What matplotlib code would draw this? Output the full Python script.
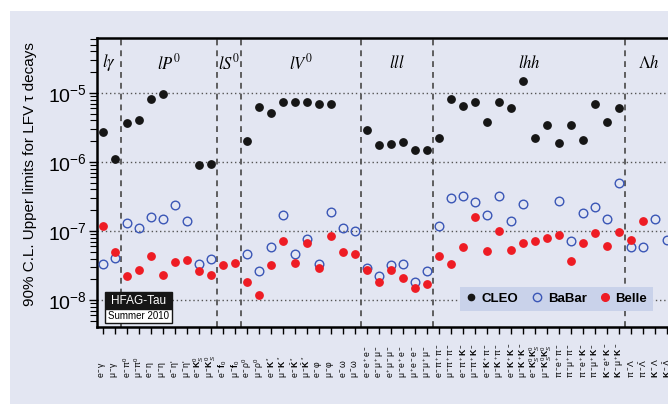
import numpy as np
import matplotlib.pyplot as plt
from matplotlib import font_manager
from matplotlib.lines import Line2D
from matplotlib.patches import Rectangle

plt.rcParams['font.family'] = 'Liberation Sans'
plt.rcParams['mathtext.fontset'] = 'custom'
plt.rcParams['mathtext.rm'] = 'Liberation Sans'
plt.rcParams['mathtext.it'] = 'Liberation Sans:italic'
plt.rcParams['mathtext.bf'] = 'Liberation Sans:bold'

# narrow face for the legend if there is one
names = {f.name for f in font_manager.fontManager.ttflist}
legend_font = 'Liberation Sans Narrow' if 'Liberation Sans Narrow' in names else 'Liberation Sans'

nan = np.nan

# decay channels, grouped by final state
groups = [r'$l\gamma$', r'$lP^0$', r'$lS^0$', r'$lV^0$', r'$lll$', r'$lhh$', r'$\Lambda h$']
group_sizes = [2, 8, 2, 10, 6, 16, 4]

channels = [
    'e$^-$γ', 'μ$^-$γ',
    'e$^-$π$^0$', 'μ$^-$π$^0$', 'e$^-$η', 'μ$^-$η', "e$^-$η'", "μ$^-$η'",
    r'e$^-\mathbf{K}^0_S$', r'μ$^-\mathbf{K}^0_S$',
    r'e$^-\mathbf{f}_0$', r'μ$^-\mathbf{f}_0$',
    'e$^-$ρ$^0$', 'μ$^-$ρ$^0$', r'e$^-\mathbf{K}^*$', r'μ$^-\mathbf{K}^*$',
    r'e$^-\bar{\mathbf{K}}^*$', r'μ$^-\bar{\mathbf{K}}^*$', 'e$^-$φ', 'μ$^-$φ', 'e$^-$ω', 'μ$^-$ω',
    'e$^-$e$^+$e$^-$', 'e$^-$μ$^+$μ$^-$', 'e$^+$μ$^-$μ$^-$', 'μ$^-$e$^+$e$^-$',
    'μ$^+$e$^-$e$^-$', 'μ$^-$μ$^+$μ$^-$',
    'e$^-$π$^+$π$^-$', 'μ$^-$π$^+$π$^-$', r'e$^-$π$^+\mathbf{K}^-$', r'μ$^-$π$^+\mathbf{K}^-$',
    r'e$^-\mathbf{K}^+$π$^-$', r'μ$^-\mathbf{K}^+$π$^-$', r'e$^-\mathbf{K}^+\mathbf{K}^-$',
    r'μ$^-\mathbf{K}^+\mathbf{K}^-$', r'e$^-\mathbf{K}^0_S\mathbf{K}^0_S$',
    r'μ$^-\mathbf{K}^0_S\mathbf{K}^0_S$', 'π$^-$e$^+$π$^-$', 'π$^-$μ$^+$π$^-$',
    r'π$^-$e$^+\mathbf{K}^-$', r'π$^-$μ$^+\mathbf{K}^-$', r'$\mathbf{K}^-$e$^+\mathbf{K}^-$',
    r'$\mathbf{K}^-$μ$^+\mathbf{K}^-$',
    'π$^-$Λ', r'π$^-\bar{Λ}$', r'$\mathbf{K}^-$Λ', r'$\mathbf{K}^-\bar{Λ}$',
]

cleo = [2.7e-6, 1.1e-6, 3.7e-6, 4.0e-6, 8.2e-6, 9.6e-6, nan, nan, 9.1e-7, 9.5e-7,
        nan, nan,
        2.0e-6, 6.3e-6, 5.1e-6, 7.5e-6, 7.4e-6, 7.5e-6, 6.9e-6, 7.0e-6, nan, nan,
        2.9e-6, 1.75e-6, 1.85e-6, 1.95e-6, 1.5e-6, 1.5e-6,
        2.2e-6, 8.1e-6, 6.4e-6, 7.5e-6, 3.8e-6, 7.4e-6, 6.0e-6, 1.5e-5,
        2.2e-6, 3.4e-6, 1.9e-6, 3.4e-6, 2.1e-6, 7.0e-6, 3.8e-6, 6.0e-6,
        nan, nan, nan, nan]

babar = [3.3e-8, 4.1e-8, 1.32e-7, 1.1e-7, 1.6e-7, 1.5e-7, 2.4e-7, 1.4e-7, 3.3e-8, 4.0e-8,
         nan, nan,
         4.6e-8, 2.6e-8, 5.9e-8, 1.7e-7, 4.6e-8, 7.7e-8, 3.3e-8, 1.9e-7, 1.1e-7, 1.0e-7,
         2.9e-8, 2.2e-8, 3.2e-8, 3.3e-8, 1.8e-8, 2.6e-8,
         1.2e-7, 3.0e-7, 3.2e-7, 2.6e-7, 1.7e-7, 3.2e-7, 1.4e-7, 2.5e-7,
         nan, nan, 2.7e-7, 7.2e-8, 1.8e-7, 2.2e-7, 1.5e-7, 4.9e-7,
         5.9e-8, 5.9e-8, 1.5e-7, 7.3e-8]

belle = [1.2e-7, 4.9e-8, 2.2e-8, 2.7e-8, 4.4e-8, 2.3e-8, 3.6e-8, 3.8e-8, 2.6e-8, 2.3e-8,
         3.2e-8, 3.4e-8,
         1.8e-8, 1.2e-8, 3.2e-8, 7.2e-8, 3.4e-8, 6.8e-8, 2.9e-8, 8.4e-8, 4.9e-8, 4.7e-8,
         2.7e-8, 1.8e-8, 2.7e-8, 2.1e-8, 1.5e-8, 1.7e-8,
         4.4e-8, 3.3e-8, 5.9e-8, 1.6e-7, 5.2e-8, 1.0e-7, 5.4e-8, 6.8e-8,
         7.2e-8, 8.0e-8, 8.9e-8, 3.7e-8, 6.8e-8, 9.5e-8, 6.0e-8, 9.7e-8,
         7.3e-8, 1.4e-7, nan, nan]

bg = '#e3e6f2'
W, H = 668, 404

fig = plt.figure(figsize=(W / 100, H / 100), dpi=100, facecolor='white')
fig.patches.append(Rectangle((10 / W, 0), 1, 1 - 11 / H, transform=fig.transFigure,
                             facecolor=bg, edgecolor='none', zorder=-10))
ax = fig.add_axes([97 / W, 77 / H, 576 / W, 289 / H])
ax.set_facecolor('none')

x = np.arange(len(channels))
ax.set_yscale('log')
ax.set_xlim(-0.5, len(channels) - 0.5)
ax.set_ylim(4.07e-9, 6.27e-5)

ax.plot(x, cleo, 'o', ls='none', color='#161616', ms=5.3, zorder=4)
ax.plot(x, babar, 'o', ls='none', mfc='none', mec='#3a56b6', mew=1.0, ms=6.2, zorder=3)
ax.plot(x, belle, 'o', ls='none', color='#ee1c24', ms=5.3, zorder=3)

# group separators and names
edges = np.cumsum(group_sizes)
for b in edges[:-1]:
    ax.axvline(b - 0.5, color='#474747', ls=(0, (3.5, 3)), lw=1.2, zorder=1)
starts = np.concatenate([[0], edges[:-1]])
for name, s, e in zip(groups, starts, edges):
    ax.text((s + e - 1) / 2, 0.915, name, transform=ax.get_xaxis_transform(),
            ha='center', va='center', fontsize=12, math_fontfamily='stix')

for dec in [1e-8, 1e-7, 1e-6, 1e-5]:
    ax.axhline(dec, color='#555555', ls=(0, (1, 2)), lw=1.0, zorder=1)

for s in ['left', 'top', 'bottom']:
    ax.spines[s].set_linewidth(1.8)
ax.spines['right'].set_visible(False)

ax.set_xticks(x)
ax.tick_params(axis='x', which='both', direction='out', length=5, width=1,
               labelbottom=False)
ax.tick_params(axis='y', which='major', direction='out', length=6, width=1,
               labelsize=14, pad=1)
ax.tick_params(axis='y', which='minor', direction='out', length=5, width=0.8)

for xi, lab in zip(x, channels):
    ax.text(xi, -0.178, lab, transform=ax.get_xaxis_transform(), rotation=90,
            ha='center', va='bottom', fontsize=6.2)

ax.set_ylabel('90% C.L. Upper limits for LFV τ decays', fontsize=11)
ax.yaxis.set_label_coords(-0.104, 0.53)

# HFAG stamp
fig.patches.append(Rectangle((105 / W, 1 - 309 / H), 67 / W, 17 / H, transform=fig.transFigure,
                             facecolor='#161616', edgecolor='#161616', lw=1))
fig.patches.append(Rectangle((105 / W, 1 - 323 / H), 67 / W, 14 / H, transform=fig.transFigure,
                             facecolor='white', edgecolor='#161616', lw=1))
fig.text(138.5 / W, 1 - 300.5 / H, 'HFAG-Tau', color='white', fontsize=8.5,
         ha='center', va='center')
fig.text(138.5 / W, 1 - 316 / H, 'Summer 2010', color='black', fontsize=7,
         ha='center', va='center')

handles = [
    Line2D([], [], marker='o', ls='none', color='#161616', ms=4.5, label='CLEO'),
    Line2D([], [], marker='o', ls='none', mfc='none', mec='#3a56b6', mew=1.0, ms=6, label='BaBar'),
    Line2D([], [], marker='o', ls='none', color='#ee1c24', ms=5.5, label='Belle'),
]
ax.legend(handles=handles, ncol=3, loc='center', bbox_to_anchor=(0.798, 0.097),
          frameon=True, fancybox=False, facecolor='#c9d2ea', edgecolor='none', framealpha=1,
          prop={'family': legend_font, 'weight': 'bold', 'size': 10.5 if legend_font != 'Liberation Sans' else 9.5},
          handlelength=0.8, handletextpad=0.4,
          columnspacing=1.0, borderpad=0.45, borderaxespad=0)

fig.savefig('out.png', dpi=100, facecolor=fig.get_facecolor())
